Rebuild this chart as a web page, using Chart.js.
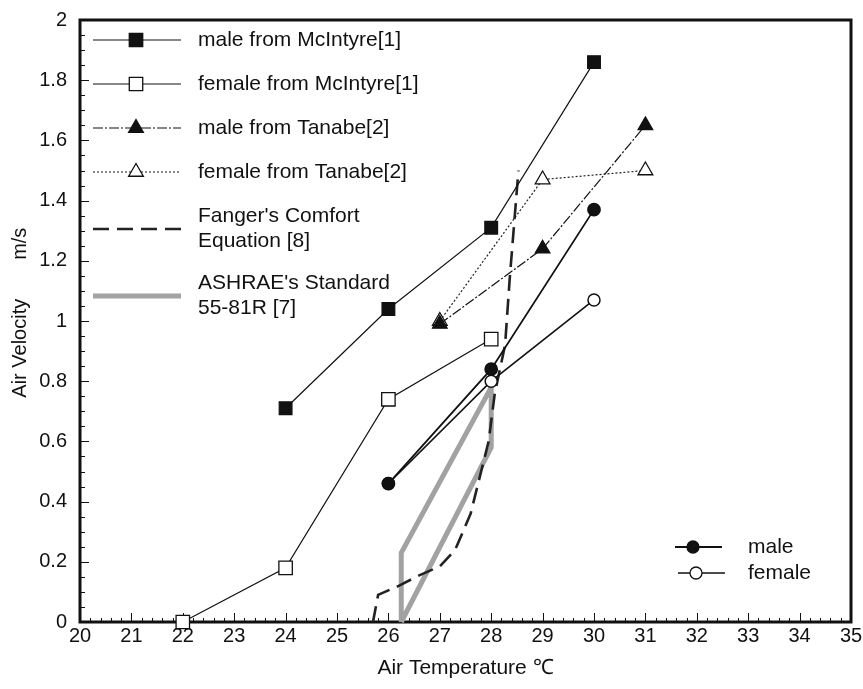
<!DOCTYPE html>
<html lang="en">
<head>
<meta charset="UTF-8">
<title>Air Velocity vs Air Temperature</title>
<script src="https://cdn.jsdelivr.net/npm/chart.js"></script>
<style>
    body { margin: 0; background: #fff; }
    #wrap { width: 863px; height: 689px; }
</style>
</head>
<body>
<div id="wrap"><canvas id="chart" width="863" height="689"></canvas></div>
<script>
// --- data ---
const mcMaleTemp = [24, 26, 28, 30];
const mcMaleVel = [0.71, 1.04, 1.31, 1.86];
const mcFemaleTemp = [22, 24, 26, 28];
const mcFemaleVel = [0, 0.18, 0.74, 0.94];
const tnMaleTemp = [27, 29, 31];
const tnMaleVel = [0.99, 1.24, 1.65];
const tnFemaleTemp = [27, 29, 31];
const tnFemaleVel = [1.0, 1.47, 1.50];
const maleTemp = [26, 28, 30];
const maleVel = [0.46, 0.84, 1.37];
const femaleTemp = [26, 28, 30];
const femaleVel = [0.46, 0.80, 1.07];
const fangerTemp = [25.7, 25.8, 26.2, 26.6, 27.0, 27.3, 27.6, 27.95, 28.07, 28.27, 28.36, 28.53];
const fangerVel = [0, 0.09, 0.12, 0.155, 0.185, 0.24, 0.36, 0.6, 0.76, 0.92, 1.14, 1.5];
const ashraeTemp = [26.25, 26.25, 28, 28, 26.25];
const ashraeVel = [0, 0.23, 0.78, 0.58, 0];

const xTicks = [20, 21, 22, 23, 24, 25, 26, 27, 28, 29, 30, 31, 32, 33, 34, 35];
const yTicks = [0, 0.2, 0.4, 0.6, 0.8, 1, 1.2, 1.4, 1.6, 1.8, 2];

const FONT = '"Liberation Sans", Arial, sans-serif';
const ASH = '#a2a2a2';

function pts(xs, ys) {
    return xs.map((x, i) => ({ x: x, y: ys[i] }));
}

// legend entries (top-left box and bottom-right box)
const legendMain = [
    { text: ['male from McIntyre[1]'], style: 'rect', r: 9.5, fill: '#111', width: 1.2, dash: [] },
    { text: ['female from McIntyre[1]'], style: 'rect', r: 9.5, fill: '#fff', width: 1.2, dash: [] },
    { text: ['male from Tanabe[2]'], style: 'triangle', r: 8.5, fill: '#111', width: 1.2, dash: [10, 2, 2, 2] },
    { text: ['female from Tanabe[2]'], style: 'triangle', r: 8.5, fill: '#fff', width: 1.2, dash: [2, 2] },
    { text: ["Fanger's Comfort", 'Equation [8]'], style: false, width: 2.6, dash: [16, 8], color: '#222' },
    { text: ["ASHRAE's Standard", '55-81R [7]'], style: false, width: 5, dash: [], color: ASH }
];
const legendSmall = [
    { text: ['male'], style: 'circle', r: 6, fill: '#111', width: 1.8, dash: [] },
    { text: ['female'], style: 'circle', r: 6, fill: '#fff', width: 1.6, dash: [] }
];

function drawEntry(ctx, e, x0, x1, xm, y, tx) {
    ctx.save();
    ctx.strokeStyle = e.color || '#111';
    ctx.lineWidth = e.width;
    ctx.setLineDash(e.dash);
    ctx.beginPath();
    ctx.moveTo(x0, y);
    ctx.lineTo(x1, y);
    ctx.stroke();
    ctx.setLineDash([]);
    if (e.style) {
        ctx.fillStyle = e.fill;
        ctx.strokeStyle = '#111';
        ctx.lineWidth = 1.3;
        Chart.helpers.drawPoint(ctx, { pointStyle: e.style, radius: e.r, borderWidth: 1.3, rotation: 0 }, xm, y);
    }
    ctx.fillStyle = '#111';
    ctx.font = '21px ' + FONT;
    ctx.textBaseline = 'middle';
    if (e.text.length === 1) {
        ctx.fillText(e.text[0], tx, y);
    } else {
        ctx.fillText(e.text[0], tx, y - 12.5);
        ctx.fillText(e.text[1], tx, y + 12.5);
    }
    ctx.restore();
}

const framePlugin = {
    id: 'framePlugin',
    beforeDatasetsDraw(chart) {
        const ctx = chart.ctx;
        const xs = chart.scales.x, ys = chart.scales.y;
        const a = chart.chartArea;
        ctx.save();
        ctx.strokeStyle = '#111';
        // x ticks inward: every 0.2, long on integers
        ctx.lineWidth = 1;
        for (let i = 0; i <= 75; i++) {
            const v = 20 + i * 0.2;
            const px = Math.round(xs.getPixelForValue(v)) + 0.5;
            const len = (i % 5 === 0) ? 9 : 4;
            ctx.beginPath();
            ctx.moveTo(px, a.bottom);
            ctx.lineTo(px, a.bottom - len);
            ctx.stroke();
        }
        // y ticks inward: every 0.05, long on 0.2
        for (let i = 0; i <= 40; i++) {
            const v = i * 0.05;
            const py = Math.round(ys.getPixelForValue(v)) + 0.5;
            const len = (i % 4 === 0) ? 9 : 5;
            ctx.beginPath();
            ctx.moveTo(a.left, py);
            ctx.lineTo(a.left + len, py);
            ctx.stroke();
        }
        ctx.lineWidth = 3;
        ctx.strokeRect(a.left, a.top, a.right - a.left, a.bottom - a.top);
        ctx.restore();
    },
    afterDraw(chart) {
        const ctx = chart.ctx;
        const rows = [40, 84, 128, 172, 229, 296];
        legendMain.forEach((e, i) => drawEntry(ctx, e, 93, 181, 136, rows[i], 198));
        drawEntry(chart.ctx, legendSmall[0], 675, 722, 693, 547, 748);
        drawEntry(chart.ctx, legendSmall[1], 678, 725, 696, 573, 748);
    }
};

const ctx = document.getElementById('chart').getContext('2d');
new Chart(ctx, {
    type: 'scatter',
    data: {
        datasets: [
            {
                label: "ASHRAE's Standard 55-81R [7]",
                data: pts(ashraeTemp, ashraeVel),
                showLine: true, borderColor: ASH, borderWidth: 5, pointRadius: 0,
                borderJoinStyle: 'miter', order: 9
            },
            {
                label: "Fanger's Comfort Equation [8]",
                data: pts(fangerTemp, fangerVel),
                showLine: true, borderColor: '#222', borderWidth: 2.6, borderDash: [16, 8],
                pointRadius: 0, order: 8
            },
            {
                label: 'male from McIntyre[1]',
                data: pts(mcMaleTemp, mcMaleVel),
                showLine: true, borderColor: '#111', borderWidth: 1.2,
                pointStyle: 'rect', pointRadius: 9, pointBackgroundColor: '#111',
                pointBorderColor: '#111', order: 4
            },
            {
                label: 'female from McIntyre[1]',
                data: pts(mcFemaleTemp, mcFemaleVel),
                showLine: true, borderColor: '#111', borderWidth: 1.2,
                pointStyle: 'rect', pointRadius: 9.5, pointBackgroundColor: '#fff',
                pointBorderColor: '#111', pointBorderWidth: 1.3, order: 5
            },
            {
                label: 'male from Tanabe[2]',
                data: pts(tnMaleTemp, tnMaleVel),
                showLine: true, borderColor: '#111', borderWidth: 1.2, borderDash: [10, 2, 2, 2],
                pointStyle: 'triangle', pointRadius: 8.5, pointBackgroundColor: '#111',
                pointBorderColor: '#111', order: 3
            },
            {
                label: 'female from Tanabe[2]',
                data: pts(tnFemaleTemp, tnFemaleVel),
                showLine: true, borderColor: '#222', borderWidth: 1.2, borderDash: [2, 2],
                pointStyle: 'triangle', pointRadius: 8.5, pointBackgroundColor: '#fff',
                pointBorderColor: '#111', pointBorderWidth: 1.3, order: 6
            },
            {
                label: 'male',
                data: pts(maleTemp, maleVel),
                showLine: true, borderColor: '#111', borderWidth: 1.8,
                pointStyle: 'circle', pointRadius: 6, pointBackgroundColor: '#111',
                pointBorderColor: '#111', order: 0
            },
            {
                label: 'female',
                data: pts(femaleTemp, femaleVel),
                showLine: true, borderColor: '#111', borderWidth: 1.6,
                pointStyle: 'circle', pointRadius: 6, pointBackgroundColor: '#fff',
                pointBorderColor: '#111', pointBorderWidth: 1.5, order: 1
            }
        ]
    },
    options: {
        responsive: false,
        animation: false,
        clip: false,
        layout: { padding: { top: 20, right: 12, left: 0, bottom: 0 } },
        plugins: {
            legend: { display: false },
            tooltip: { enabled: false }
        },
        scales: {
            x: {
                type: 'linear', min: 20, max: 35,
                afterFit: s => { s.height = 67; s.paddingLeft = 0; s.paddingRight = 0; },
                afterBuildTicks: s => { s.ticks = xTicks.map(v => ({ value: v })); },
                grid: { display: false, drawTicks: false },
                border: { display: false },
                ticks: { color: '#111', font: { family: FONT, size: 20 }, padding: 2, maxRotation: 0 },
                title: {
                    display: true, text: 'Air Temperature ℃', color: '#111',
                    font: { family: FONT, size: 21 }, padding: { top: 0, bottom: 8 }
                }
            },
            y: {
                type: 'linear', min: 0, max: 2,
                afterFit: s => { s.width = 80; s.paddingTop = 0; s.paddingBottom = 0; },
                afterBuildTicks: s => { s.ticks = yTicks.map(v => ({ value: v })); },
                grid: { display: false, drawTicks: false },
                border: { display: false },
                ticks: {
                    color: '#111', font: { family: FONT, size: 20 }, padding: 13,
                    callback: v => String(parseFloat(v.toFixed(1)))
                },
                title: {
                    display: true, text: '   Air Velocity       m/s', color: '#111',
                    font: { family: FONT, size: 20 }, padding: { top: 8, bottom: 0 }
                }
            }
        }
    },
    plugins: [framePlugin]
});
</script>
</body>
</html>
